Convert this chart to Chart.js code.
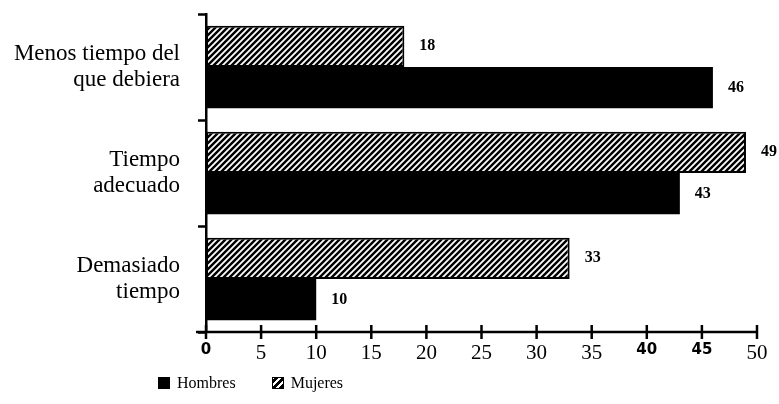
<!DOCTYPE html>
<html>
<head>
<meta charset="utf-8">
<script src="https://cdn.jsdelivr.net/npm/chart.js@4/dist/chart.umd.min.js"></script>
<style>
  body { margin: 0; background: #fff; }
  #wrap { position: relative; width: 779px; height: 404px; }
  #legend { position: absolute; top: 374px; left: 158px; font-family: "Liberation Serif", serif; font-size: 16px; color: #000; }
  #legend span.item { display: inline-block; margin-right: 36px; }
  #legend span.box { display: inline-block; width: 12px; height: 12px; margin-right: 7px; vertical-align: -1px; border: 1px solid #000; box-sizing: border-box; }
</style>
</head>
<body>
<div id="wrap">
  <canvas id="chart" width="779" height="404"></canvas>
  <div id="legend"></div>
</div>
<script>
const categories = [['Menos tiempo del', 'que debiera'], ['Tiempo', 'adecuado'], ['Demasiado', 'tiempo']];
const hombres = [46, 43, 10];
const mujeres = [18, 49, 33];
const xTicks = [0, 5, 10, 15, 20, 25, 30, 35, 40, 45, 50];

function makeHatch() {
    const c = document.createElement('canvas');
    c.width = 6;
    c.height = 6;
    const g = c.getContext('2d');
    g.fillStyle = '#000';
    g.fillRect(0, 0, 6, 6);
    g.strokeStyle = '#fff';
    g.lineWidth = 1.8;
    g.beginPath();
    g.moveTo(-1, 7); g.lineTo(7, -1);
    g.moveTo(-4, 4); g.lineTo(4, -4);
    g.moveTo(2, 10); g.lineTo(10, 2);
    g.stroke();
    return g.createPattern(c, 'repeat');
}
const hatch = makeHatch();

// value labels at bar ends
const valueLabels = {
    id: 'valueLabels',
    afterDatasetsDraw(chart) {
        const ctx = chart.ctx;
        ctx.save();
        ctx.fillStyle = '#000';
        ctx.font = 'bold 16px "Liberation Serif", serif';
        ctx.textBaseline = 'middle';
        chart.data.datasets.forEach((ds, i) => {
            chart.getDatasetMeta(i).data.forEach((bar, j) => {
                ctx.fillText(ds.data[j], bar.x + 15, bar.y);
            });
        });
        ctx.restore();
    }
};

// x tick marks crossing the axis
const crossTicks = {
    id: 'crossTicks',
    afterDraw(chart) {
        const ctx = chart.ctx;
        const x = chart.scales.x;
        const y0 = chart.chartArea.bottom;
        ctx.save();
        ctx.strokeStyle = '#000';
        ctx.lineWidth = 2.5;
        ctx.beginPath();
        x.ticks.forEach(t => {
            const px = x.getPixelForValue(t.value);
            ctx.moveTo(px, y0 - 7);
            ctx.lineTo(px, y0 + 7);
        });
        ctx.moveTo(chart.chartArea.left - 10, y0);
        ctx.lineTo(chart.chartArea.right, y0);
        ctx.stroke();
        ctx.restore();
    }
};

const chart = new Chart(document.getElementById('chart').getContext('2d'), {
    type: 'bar',
    data: {
        labels: categories,
        datasets: [{
            label: 'Mujeres',
            data: mujeres,
            backgroundColor: hatch,
            borderColor: '#000',
            borderWidth: 2,
            borderSkipped: false
        }, {
            label: 'Hombres',
            data: hombres,
            backgroundColor: '#000',
            borderColor: '#000',
            borderWidth: 0
        }]
    },
    options: {
        indexAxis: 'y',
        responsive: false,
        animation: false,
        layout: { padding: { top: 14, right: 22, bottom: 0, left: 0 } },
        datasets: { bar: { categoryPercentage: 0.78, barPercentage: 1 } },
        plugins: {
            legend: { display: false },
            tooltip: { enabled: false }
        },
        scales: {
            x: {
                min: 0,
                max: 50,
                afterFit(scale) {
                    scale.height = 72;
                    scale.paddingLeft = 0;
                    scale.paddingRight = 0;
                },
                afterBuildTicks(scale) { scale.ticks = xTicks.map(v => ({ value: v })); },
                grid: { display: false, drawTicks: false },
                border: { display: false },
                ticks: {
                    color: '#000',
                    padding: 9,
                    font(ctx) {
                        const v = ctx.tick && ctx.tick.value;
                        if (v === 0 || v === 40 || v === 45) {
                            return { family: '"DejaVu Sans", sans-serif', size: 15, weight: 'bold' };
                        }
                        return { family: '"Liberation Serif", serif', size: 21 };
                    }
                }
            },
            y: {
                afterFit(scale) {
                    scale.width = 206;
                    scale.paddingTop = 0;
                    scale.paddingBottom = 0;
                },
                grid: { offset: true, drawOnChartArea: false, tickLength: 8, tickWidth: 2.5, tickColor: '#000' },
                border: { display: true, color: '#000', width: 2.5 },
                ticks: {
                    color: '#000',
                    padding: 18,
                    font: { family: '"Liberation Serif", serif', size: 23, lineHeight: 1.1 }
                }
            }
        }
    },
    plugins: [valueLabels, crossTicks]
});

// legend in the order of the original: Hombres, Mujeres
const legend = document.getElementById('legend');
chart.data.datasets.slice().reverse().forEach(ds => {
    const item = document.createElement('span');
    item.className = 'item';
    const box = document.createElement('span');
    box.className = 'box';
    if (ds.label === 'Mujeres') {
        box.style.background = 'repeating-linear-gradient(-45deg, #000 0 3px, #fff 3px 5px)';
    } else {
        box.style.background = '#000';
    }
    item.appendChild(box);
    item.appendChild(document.createTextNode(ds.label));
    legend.appendChild(item);
});
</script>
</body>
</html>
